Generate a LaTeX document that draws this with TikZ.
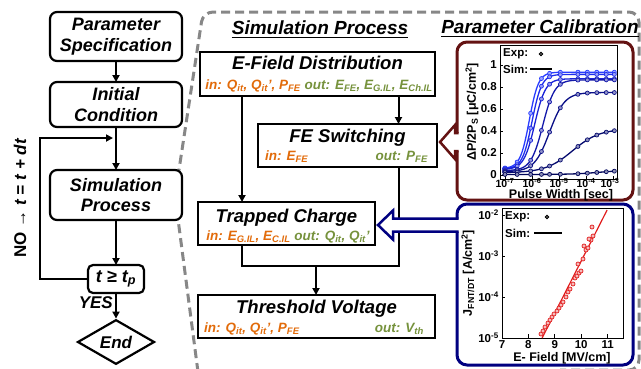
\documentclass[tikz,border=0pt]{standalone}
\usepackage{fontspec}
\setmainfont{Liberation Sans}
\usetikzlibrary{calc,arrows.meta,shapes.geometric}
\definecolor{inor}{RGB}{226,107,10}
\definecolor{outgr}{RGB}{118,146,60}
\definecolor{maroonc}{RGB}{100,18,18}
\definecolor{navyb}{RGB}{0,0,128}
\definecolor{dashg}{RGB}{135,135,135}
\definecolor{redl}{RGB}{225,30,30}
\definecolor{cA}{RGB}{40,60,255}
\definecolor{cB}{RGB}{30,45,235}
\definecolor{cC}{RGB}{25,35,215}
\definecolor{cD}{RGB}{20,25,170}
\definecolor{cE}{RGB}{10,15,135}
\definecolor{cF}{RGB}{5,10,110}
\definecolor{cG}{RGB}{0,5,90}
\tikzset{
 flowbox/.style={draw, fill=white, line width=2.2pt, rounded corners=7pt, outer sep=0pt, inner sep=0pt, align=center, font=\fontsize{18}{20.5}\selectfont\bfseries\itshape},
 mbox/.style={draw, fill=white, line width=2.3pt, outer sep=0pt, inner sep=0pt},
 ttl/.style={inner sep=0pt, font=\fontsize{18.5}{20}\selectfont\bfseries\itshape},
 hdr/.style={inner sep=0pt, font=\fontsize{19}{20}\selectfont\bfseries\itshape},
 iotxt/.style={inner sep=0pt, font=\fontsize{13.5}{14}\selectfont\bfseries\itshape},
 flowarrow/.style={line width=2pt, -{Triangle[length=7pt,width=7pt]}},
 flowline/.style={line width=2pt},
 ticklab/.style={inner sep=0pt, font=\fontsize{11.5}{12}\selectfont\bfseries},
 xticklab/.style={inner sep=0pt, font=\fontsize{10.5}{11}\selectfont\bfseries},
 axlab/.style={inner sep=0pt, font=\fontsize{12.5}{13}\selectfont\bfseries},
 gdash/.style={draw=dashg, line width=3pt, dash pattern=on 9pt off 5pt},
 calbox/.style={line width=3pt, rounded corners=10pt, outer sep=0pt, inner sep=0pt},
}
\begin{document}
\begin{tikzpicture}[x=1pt,y=-1pt]
\useasboundingbox (0,0) rectangle (641,368);
% dashed zoom outline
\draw[gdash, rounded corners=10pt] (198,372) -- (175,196) -- (203,12) -- (639,12) -- (639,370) -- (560,370);
% ---------- left flow ----------
\node[flowbox, minimum width=132pt, minimum height=49pt] (ps) at (116,36.5) {Parameter\\Specification};
\node[flowbox, minimum width=132pt, minimum height=45pt] (ic) at (116,104.5) {Initial\\Condition};
\node[flowbox, minimum width=132pt, minimum height=50pt] (sp) at (116,195) {Simulation\\Process};
\node[flowbox, rounded corners=5pt, minimum width=56pt, minimum height=28pt] (tb) at (116,279) {t ≥ t\textsubscript{p}};
\node[draw, diamond, fill=white, line width=2.2pt, minimum width=77pt, minimum height=40pt, inner sep=0pt, font=\fontsize{17}{18}\selectfont\bfseries\itshape] (endn) at (116,342) {End};
\draw[flowarrow] (ps.south) -- (ic.north);
\draw[flowarrow] (ic.south) -- (sp.north);
\draw[flowarrow] (sp.south) -- (tb.north);
\draw[flowarrow] (tb.south) -- (endn.north);
\coordinate (loopin) at ($(ic.south)+(-3,11)$);
\draw[flowarrow] (tb.west) -- ++(-48,0) |- (loopin);
\node[rotate=90, inner sep=0pt, font=\fontsize{17}{18}\selectfont\bfseries] (nolab) at (20,198) {NO → \textit{t = t + dt}};
\node[anchor=east, inner sep=0pt, font=\fontsize{17}{18}\selectfont\bfseries\itshape] (yes) at (113,303) {YES};
% ---------- headers ----------
\node[hdr, anchor=base] (h1) at (320,34) {Simulation Process};
\draw[line width=1.4pt] ($(h1.base west)+(0,3.5)$) -- ($(h1.base east)+(0,3.5)$);
\node[hdr, anchor=base] (h2) at (540,33) {Parameter Calibration};
\draw[line width=1.4pt] ($(h2.base west)+(0,3.5)$) -- ($(h2.base east)+(0,3.5)$);
% ---------- simulation boxes ----------
\node[mbox, minimum width=235pt, minimum height=44pt] (ef) at (317.5,74) {};
\node[mbox, minimum width=179pt, minimum height=43pt] (fe) at (347.5,145.5) {};
\node[mbox, minimum width=177pt, minimum height=43pt] (tc) at (286.5,223.5) {};
\node[mbox, minimum width=237pt, minimum height=43pt] (tv) at (316.5,316.5) {};
\node[ttl, anchor=base] (eft) at (317.5,69) {E-Field Distribution};
\node[iotxt, anchor=base] (efio) at (319,89) {\color{inor}in: Q\textsubscript{it}, Q\textsubscript{it}', P\textsubscript{FE} \color{outgr}out: E\textsubscript{FE}, E\textsubscript{G.IL}, E\textsubscript{Ch.IL}};
\node[ttl, anchor=base] (fet) at (347.5,142) {FE Switching};
\node[iotxt, anchor=base west, text=inor] (fein) at (265,160) {in: E\textsubscript{FE}};
\node[iotxt, anchor=base east, text=outgr] (feout) at (428,160) {out: P\textsubscript{FE}};
\node[ttl, anchor=base] (tct) at (286.5,222) {Trapped Charge};
\node[iotxt, anchor=base] (tcio) at (288,240) {\color{inor}in: E\textsubscript{G.IL}, E\textsubscript{C.IL} \color{outgr}out: Q\textsubscript{it}, Q\textsubscript{it}'};
\node[ttl, anchor=base] (tvt) at (316.5,313) {Threshold Voltage};
\node[iotxt, anchor=base west, text=inor] (tvin) at (204,332) {in: Q\textsubscript{it}, Q\textsubscript{it}', P\textsubscript{FE}};
\node[iotxt, anchor=base east, text=outgr] (tvout) at (424,332) {out: V\textsubscript{th}};
\coordinate (colA) at (242,0);
\coordinate (colB) at (398.5,0);
\coordinate (colC) at (316,0);
\coordinate (jn) at (0,266);
\draw[flowarrow] (ef.south -| colA) -- (tc.north -| colA);
\draw[flowarrow] (ef.south -| colB) -- (fe.north -| colB);
\draw[flowline] (tc.south -| colA) |- (colB |- jn) -- (fe.south -| colB);
\draw[flowarrow] (colC |- jn) -- (tv.north -| colC);
% ---------- calibration boxes ----------
\node[draw=maroonc, calbox, minimum width=176pt, minimum height=158pt] (cal) at (545,121) {};
\node[draw=navyb, calbox, minimum width=176pt, minimum height=161pt] (cal2) at (545,284.5) {};
% hollow arrows
\coordinate (mt) at ($(fe.east)+(3,-3.5)$);
\fill[white] (mt) -- ($(mt)+(15,-17)$) -- ($(mt)+(15,-9)$) -- ($(cal.west|-mt)+(3,-9)$) -- ($(cal.west|-mt)+(3,9)$) -- ($(mt)+(15,9)$) -- ($(mt)+(15,17)$) -- cycle;
\draw[maroonc, line width=2.5pt] ($(cal.west|-mt)+(1.5,-9)$) -- ($(mt)+(15,-9)$) -- ($(mt)+(15,-17)$) -- (mt) -- ($(mt)+(15,17)$) -- ($(mt)+(15,9)$) -- ($(cal.west|-mt)+(1.5,9)$);
\coordinate (nt) at ($(tc.east)+(3,1.5)$);
\fill[white] (nt) -- ($(nt)+(15,-14.5)$) -- ($(nt)+(15,-6.5)$) -- ($(cal2.west|-nt)+(3,-6.5)$) -- ($(cal2.west|-nt)+(3,6.5)$) -- ($(nt)+(15,6.5)$) -- ($(nt)+(15,14.5)$) -- cycle;
\draw[navyb, line width=2.5pt] ($(cal2.west|-nt)+(1.5,-6.5)$) -- ($(nt)+(15,-6.5)$) -- ($(nt)+(15,-14.5)$) -- (nt) -- ($(nt)+(15,14.5)$) -- ($(nt)+(15,6.5)$) -- ($(cal2.west|-nt)+(1.5,6.5)$);
% ---------- plot 1 ----------
\begin{scope}[shift={(505pt,-175pt)}, x=27pt, y=110pt]
 \draw[line width=1pt, fill=white] (-0.185,-0.045) rectangle (4.15,1.173);
 \foreach \u in {0,1,2,3,4} \draw[line width=0.8pt] (\u,-0.045) -- ++(0,0.035);
 \foreach \v in {0,0.2,0.4,0.6,0.8,1} \draw[line width=0.8pt] (-0.185,\v) -- ++(0.12,0);
 \foreach \qa/\qb/\qm/\qw/\qc in {0.935/0.06/0.9/0.17/cA, 0.915/0.055/1.0/0.18/cB, 0.875/0.05/1.1/0.2/cC, 0.865/0.04/1.4/0.22/cD, 0.75/0.03/1.65/0.28/cE, 0.42/0.02/2.5/0.5/cF, 0.045/0.005/3.5/0.5/cG}{
  \draw[\qc, line width=1.3pt] plot[domain=-0.1:4.05, samples=70, smooth] (\x,{\qb+(\qa-\qb)/(1+exp(-(\x-\qm)/\qw))});
  \draw plot[only marks, mark=*, mark size=2pt, mark options={draw=\qc, fill=\qc!45!white, line width=0.7pt}, samples at={0,0.45,0.95,1.35,1.65,2.05,2.7,3.05,3.4,3.75,4.05}] (\x,{\qb+(\qa-\qb)/(1+exp(-(\x-\qm)/\qw))});
 }
\end{scope}
\foreach \v/\py in {0/175,0.2/153,0.4/131,0.6/109,0.8/87,1/65} \node[ticklab, anchor=east] (yl\py) at (497,\py) {\v};
\foreach \e/\px in {-7/505,-6/532,-5/559,-4/586,-3/610} \node[xticklab, anchor=north] (xl\px) at (\px,178.5) {10\textsuperscript{\e}};
\node[axlab, anchor=base] (p1x) at (561,198.5) {Pulse Width [sec]};
\node[axlab, rotate=90] (p1y) at (472,112) {ΔP/2P\textsubscript{S} [μC/cm\textsuperscript{2}]};
\node[ticklab, anchor=west] (p1e) at (503,54) {Exp:};
\draw[fill=gray, line width=0.8pt] (541,54) circle (1.8pt);
\node[ticklab, anchor=west] (p1s) at (503,69) {Sim:};
\draw[line width=1.8pt] (530,69) -- (552,69);
% ---------- plot 2 ----------
\begin{scope}[shift={(502pt,-338pt)}, x=26.4pt, y=41pt]
 \draw[line width=1pt, fill=white] (0,0) rectangle (4.6,3.15);
 \foreach \u in {1,2,3,4} \draw[line width=0.8pt] (\u,0) -- ++(0,0.1);
 \foreach \v in {1,2,3} \draw[line width=0.8pt] (0,\v) -- ++(0.12,0);
 \draw[redl, line width=1.2pt] (1.52,0) -- (3.98,3.12);
\end{scope}
\foreach \px/\py in {541/334,543/331,545/327,548/323,550/320,552/317,554/314,557/311,559/308,561/305,563/302,566/297,568/292,570/289,573/284,575/278,577/276,579/273,581/271,578/264,583/259,586/250,588/248,584/246,591/240,589/239,593/236,592/227}
  \draw[redl, fill=redl!30, line width=0.7pt] (\px,\py) circle (2pt);
\foreach \t/\py in {-5/338,-4/297,-3/256,-2/215} \node[ticklab, anchor=east] (yy\py) at (499,\py) {10\textsuperscript{\t}};
\foreach \t/\px in {7/502,8/528.4,9/554.8,10/581.2,11/607.6} \node[ticklab, anchor=north] (xx\px) at (\px,340) {\t};
\node[axlab, anchor=base] (p2x) at (562,361.5) {E- Field [MV/cm]};
\node[axlab, rotate=90] (p2y) at (468,273) {J\textsubscript{FNT/DT} [A/cm\textsuperscript{2}]};
\node[ticklab, anchor=west] (p2e) at (505,217) {Exp:};
\draw[fill=gray, line width=0.8pt] (547,217) circle (1.8pt);
\node[ticklab, anchor=west] (p2s) at (505,233) {Sim:};
\draw[line width=1.8pt] (534,233) -- (562,233);
\end{tikzpicture}
\end{document}
